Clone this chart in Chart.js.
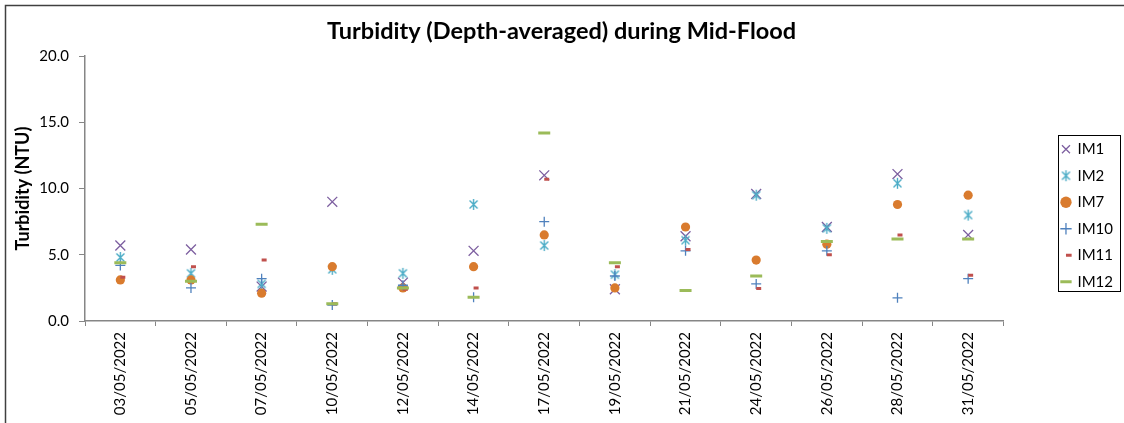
<!DOCTYPE html>
<html>
<head>
<meta charset="utf-8">
<script src="https://cdn.jsdelivr.net/npm/chart.js@4.4.1/dist/chart.umd.min.js"></script>
<style>
  html, body { margin: 0; padding: 0; background: #fff; overflow: hidden; }
  #wrap { position: relative; width: 1124px; height: 423px; }
</style>
</head>
<body>
<div id="wrap"><canvas id="chart" width="1124" height="423"></canvas></div>
<script>
const dates = ['03/05/2022','05/05/2022','07/05/2022','10/05/2022','12/05/2022','14/05/2022',
               '17/05/2022','19/05/2022','21/05/2022','24/05/2022','26/05/2022','28/05/2022','31/05/2022'];

const im1  = [5.7, 5.4, 2.6, 9.0, 2.9, 5.3, 11.0, 2.4, 6.4, 9.6, 7.1, 11.1, 6.5];
const im2  = [4.8, 3.6, 2.8, 3.9, 3.6, 8.8, 5.7, 3.5, 6.1, 9.5, 7.0, 10.4, 8.0];
const im7  = [3.1, 3.1, 2.1, 4.1, 2.5, 4.1, 6.5, 2.5, 7.1, 4.6, 5.8, 8.8, 9.5];
const im10 = [4.2, 2.5, 3.2, 1.2, 2.7, 1.8, 7.5, 3.4, 5.3, 2.8, 5.3, 1.75, 3.2];
const im11 = [3.3, 4.1, 4.6, 1.3, 2.4, 2.5, 10.7, 4.1, 5.4, 2.45, 5.0, 6.5, 3.45];
const im12 = [4.4, 3.0, 7.3, 1.3, 2.5, 1.8, 14.2, 4.4, 2.3, 3.4, 6.0, 6.2, 6.2];

const yTicks = [0, 5, 10, 15, 20];

const FONT = 'Lato, "Liberation Sans", sans-serif';

// excel style asterisk marker (x with a vertical bar)
function starMarker(color){
  const c = document.createElement('canvas');
  c.width = 13; c.height = 13;
  const g = c.getContext('2d');
  g.strokeStyle = color; g.lineWidth = 1.4;
  g.beginPath();
  g.moveTo(2.5, 2.5); g.lineTo(10.5, 10.5);
  g.moveTo(10.5, 2.5); g.lineTo(2.5, 10.5);
  g.moveTo(6.5, 1); g.lineTo(6.5, 12);
  g.stroke();
  return c;
}

function series(label, data, style, color, radius, width, idx){
  return {
    label, data,
    showLine: false,
    pointStyle: style,
    pointRadius: radius,
    pointHoverRadius: radius,
    pointBorderWidth: width,
    borderWidth: width,
    borderColor: color,
    backgroundColor: color,
    pointBackgroundColor: color,
    pointBorderColor: color,
    order: 10 - idx
  };
}

const framePlugin = {
  id: 'frame',
  afterDraw(chart){
    const ctx = chart.ctx;
    ctx.save();
    ctx.strokeStyle = '#404040';
    ctx.lineWidth = 1.5;
    ctx.beginPath();
    ctx.moveTo(5.5, chart.height);
    ctx.lineTo(5.5, 5.5);
    ctx.lineTo(chart.width, 5.5);
    ctx.stroke();
    const boxes = chart.legend.legendHitBoxes;
    if(boxes && boxes.length){
      const first = boxes[0], last = boxes[boxes.length - 1];
      ctx.strokeStyle = '#000';
      ctx.lineWidth = 1;
      const x0 = Math.round(first.left - 4) + 0.5;
      const y0 = Math.round(first.top - 7) + 0.5;
      const y1 = Math.round(last.top + last.height + 2) + 0.5;
      ctx.strokeRect(x0, y0, 62, y1 - y0);
    }
    ctx.restore();
  }
};

new Chart(document.getElementById('chart'), {
  type: 'line',
  data: {
    labels: dates,
    datasets: [
      series('IM1',  im1,  'crossRot', '#7d5fa0', 7, 1.3, 0),
      series('IM2',  im2,  starMarker('#4bacc6'), '#4bacc6', 6, 1.3, 1),
      series('IM7',  im7,  'circle',   '#d97b2e', 4.6, 0, 2),
      series('IM10', im10, 'cross',    '#4f81bd', 5, 1.3, 3),
      series('IM11', im11, 'dash',     '#c0504d', 5, 3, 4),
      series('IM12', im12, 'line',     '#9bbb59', 6, 3, 5)
    ]
  },
  options: {
    responsive: false,
    animation: false,
    events: [],
    layout: { padding: { top: 8, right: 1, bottom: 0, left: 0 } },
    plugins: {
      title: {
        display: true,
        text: 'Turbidity (Depth-averaged) during Mid-Flood',
        color: '#000',
        font: { family: FONT, size: 23.5, weight: 'bold' },
        padding: { top: 9, bottom: 11 }
      },
      legend: {
        position: 'right',
        labels: {
          usePointStyle: true,
          boxWidth: 8,
          boxHeight: 8,
          padding: 11.5,
          color: '#000',
          font: { family: FONT, size: 15 },
          sort: (a, b) => a.datasetIndex - b.datasetIndex
        }
      },
      tooltip: { enabled: false }
    },
    scales: {
      x: {
        offset: true,
        grid: { display: true, drawOnChartArea: false, offset: true, tickLength: 5, color: '#868686' },
        border: { color: '#868686', width: 1.5 },
        ticks: { minRotation: 90, maxRotation: 90, padding: 6, color: '#000', font: { family: FONT, size: 15 } },
        afterFit: s => { s.height = 102; }
      },
      y: {
        min: 0, max: 20,
        afterBuildTicks: s => { s.ticks = yTicks.map(v => ({ value: v })); },
        grid: { display: true, drawOnChartArea: false, tickLength: 6, color: '#868686' },
        border: { color: '#868686', width: 1.5 },
        ticks: { padding: 10, color: '#000', font: { family: FONT, size: 15 }, callback: v => Number(v).toFixed(1) },
        title: {
          display: true,
          text: 'Turbidity (NTU)',
          color: '#000',
          font: { family: FONT, size: 18, weight: 'bold' },
          padding: { top: 12, bottom: 0 }
        },
        afterFit: s => { s.width = 85; }
      },
      gap: {
        type: 'linear',
        position: 'right',
        display: true,
        grid: { display: false },
        border: { display: false },
        ticks: { display: false },
        afterFit: s => { s.width = 47; }
      }
    }
  },
  plugins: [framePlugin]
});
</script>
</body>
</html>
